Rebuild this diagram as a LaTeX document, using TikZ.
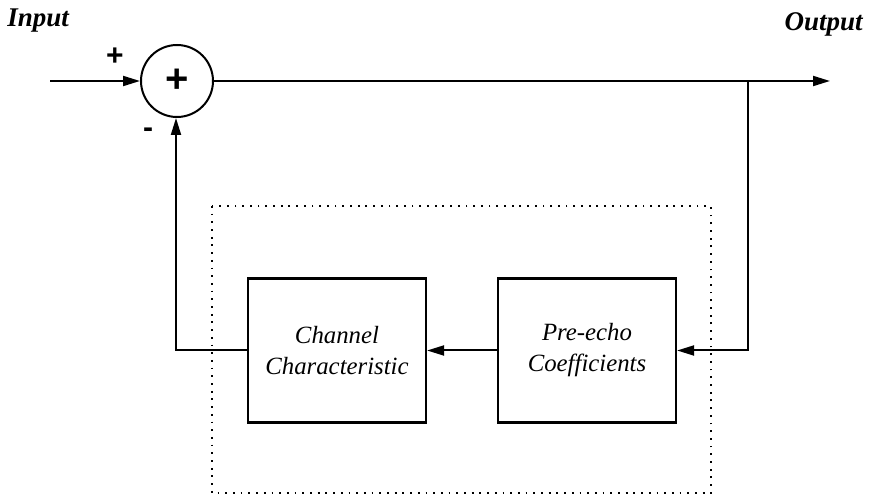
\documentclass[tikz,border=0pt]{standalone}
\usepackage{fontspec}
\setmainfont{Liberation Serif}
\newfontfamily\signfont{Liberation Sans}
\usetikzlibrary{arrows.meta}
\begin{document}
\begin{tikzpicture}[x=0.5pt,y=-0.5pt,
  wire/.style={line width=1pt},
  arr/.style={wire,-{Triangle[length=8.5pt,width=5pt]}},
  block/.style={draw,line width=1.1pt,minimum width=89pt,minimum height=72pt,inner sep=0pt,align=center,
    font=\fontsize{12.4}{15.5}\selectfont\itshape},
  lbl/.style={font=\fontsize{13.5}{16}\selectfont\bfseries\itshape,inner sep=0pt},
  sign/.style={font=\fontsize{15}{16}\selectfont\signfont\bfseries,inner sep=0pt},
  dotbox/.style={line width=0.9pt,dash pattern=on 0.9pt off 2.95pt}]
\useasboundingbox (0,0) rectangle (869,497);
% labels
\node[lbl,anchor=base west] (inlbl) at (7,27) {Input};
\node[lbl,anchor=base east] (outlbl) at (863,31) {Output};
% summing junction
\node[draw,circle,line width=1pt,minimum size=36pt,inner sep=0pt] (sum) at (177,81) {};
\node[sign,font=\fontsize{20}{20}\selectfont\signfont\bfseries] (sumplus) at (177,81) {+};
\node[sign] (plus) at (115,57) {+};
\node[sign] (minus) at (148,133) {-};
% dotted enclosure
\draw[dotbox] (212,206) rectangle (711,493);
% blocks
\node[block] (chan) at (337,350.5) {Channel\\Characteristic};
\node[block] (pre) at (587,350.5) {Pre-echo\\Coefficients};
% coordinates
\coordinate (in) at (50,81);
\coordinate (out) at (830,81);
\coordinate (branch) at (748,81);
\coordinate (rc) at (748,350.5);
\coordinate (lc) at (176,350.5);
% connectors
\draw[arr] (in) -- (sum.west);
\draw[arr] (sum.east) -- (out);
\draw[arr] (branch) -- (rc) -- (pre.east);
\draw[arr] (pre.west) -- (chan.east);
\draw[arr] (chan.west) -- (lc) -- (sum.south -| lc);
\end{tikzpicture}
\end{document}
